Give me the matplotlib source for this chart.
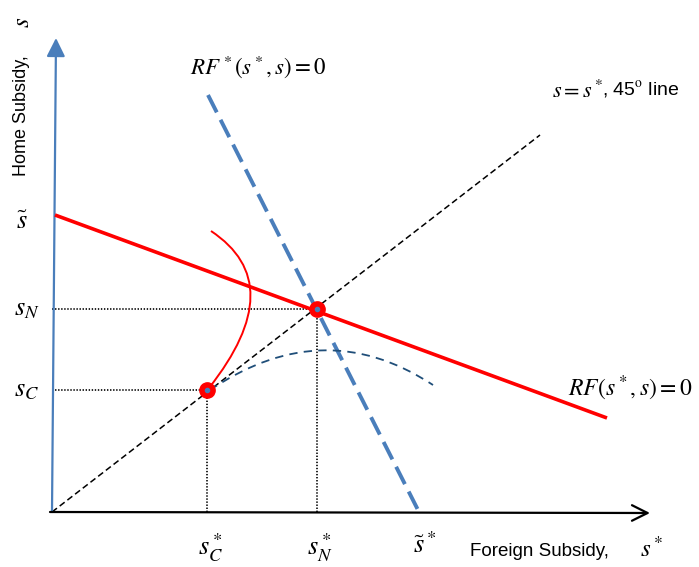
"""
Strategic trade policy diagram: home and foreign reaction functions,
Nash point N and cooperative point C.
"""

import matplotlib
matplotlib.use("Agg")
import matplotlib.pyplot as plt
from matplotlib.path import Path
from matplotlib.patches import PathPatch

plt.rcParams["mathtext.fontset"] = "stix"
plt.rcParams["font.family"] = ["Liberation Sans", "DejaVu Sans"]
plt.rcParams["lines.scale_dashes"] = False

# --- values (units: pixels from the origin) ---
origin = (0, 0)
y_axis_top = (4, 474)
x_axis_end = (598, -1)

line45_end = (488, 377)              # s = s*
rf_home = [(3, 297), (555, 94)]      # RF(s*, s) = 0
rf_foreign = [(156, 417), (366, 2)]  # RF*(s*, s) = 0

nash = (265, 203)
coop = (155, 122)
s_tilde = 290
s_tilde_star = 373

# thin curves, as quadratic Bezier (start, control, end)
home_iso = [(159, 281), (239, 228), (157, 124)]
foreign_iso = [(158, 122), (272, 199), (381, 127)]

RED = "#ff0000"
BLUE = "#4a7ebb"
DARK_BLUE = "#1f4e79"

fig = plt.figure(figsize=(6.99, 5.67), dpi=100)
ax = fig.add_axes([0, 0, 1, 1])
ax.set_xlim(-52, 647)
ax.set_ylim(-55, 512)
ax.axis("off")

# axes
ax.annotate("", xy=y_axis_top, xytext=origin,
            arrowprops=dict(arrowstyle="-|>", color=BLUE, lw=1.6,
                            mutation_scale=28, shrinkA=0, shrinkB=0))
ax.annotate("", xy=x_axis_end, xytext=(-2, 0),
            arrowprops=dict(arrowstyle="->", color="black", lw=1.6,
                            mutation_scale=28, shrinkA=0, shrinkB=0))

# 45 degree line
ax.plot([origin[0], line45_end[0]], [origin[1], line45_end[1]],
        color="black", lw=1.1, dashes=(4.5, 2.5), zorder=2)

# dotted guide lines
for px, py in (nash, coop):
    ax.plot([0, px], [py, py], color="black", lw=1.2, dashes=(1, 1.2), zorder=2)
    ax.plot([px, px], [0, py], color="black", lw=1.2, dashes=(1, 1.2), zorder=2)

# reaction functions
ax.plot([p[0] for p in rf_home], [p[1] for p in rf_home],
        color=RED, lw=2.6, solid_capstyle="butt", zorder=4)
ax.plot([p[0] for p in rf_foreign], [p[1] for p in rf_foreign],
        color=BLUE, lw=2.8, dashes=(14, 6), zorder=3)

# iso curves
codes = [Path.MOVETO, Path.CURVE3, Path.CURVE3]
ax.add_patch(PathPatch(Path(home_iso, codes), facecolor="none",
                       edgecolor=RED, lw=1.4, zorder=4))
ax.add_patch(PathPatch(Path(foreign_iso, codes), facecolor="none",
                       edgecolor=DARK_BLUE, lw=1.3, linestyle=(0, (6, 4.5)),
                       zorder=3))

# equilibrium points
for p in (nash, coop):
    ax.plot(*p, "o", ms=11, color=RED, zorder=6)
    ax.plot(*p, "o", ms=3, color=BLUE, zorder=7)

# axis titles
ax.text(-30, 396, "Home Subsidy,", rotation=90, fontsize=13,
        ha="center", va="center")
ax.text(-30, 490, "$s$", rotation=90, fontsize=18, ha="center", va="center")
ax.text(418, -39, "Foreign Subsidy,", fontsize=13.5, ha="left", va="center")
ax.text(600, -37, "$s^*$", fontsize=18, ha="center", va="center")

# tick-like labels
ax.text(-30, s_tilde, r"$\tilde{s}$", fontsize=19, ha="center", va="center")
ax.text(-25, nash[1], r"$s_N$", fontsize=19, ha="center", va="center")
ax.text(-25, coop[1], r"$s_C$", fontsize=19, ha="center", va="center")
ax.text(coop[0] + 4, -36, r"$s_C^*$", fontsize=19, ha="center", va="center")
ax.text(nash[0] + 3, -36, r"$s_N^*$", fontsize=19, ha="center", va="center")
ax.text(s_tilde_star, -33, r"$\tilde{s}^*$", fontsize=19, ha="center",
        va="center")

# curve labels
ax.text(138, 445, r"$RF^*\left(s^*,s\right)=0$", fontsize=16.5, ha="left",
        va="center")
ax.text(500, 420, r"$s=s^*$", fontsize=16, ha="left", va="center")
ax.text(550, 422, r", 45$^{\mathrm{o}}$ line", fontsize=14, ha="left",
        va="center")
ax.text(516, 124, r"$RF\left(s^*,s\right)=0$", fontsize=17, ha="left",
        va="center")

fig.savefig("out.png", dpi=100)
